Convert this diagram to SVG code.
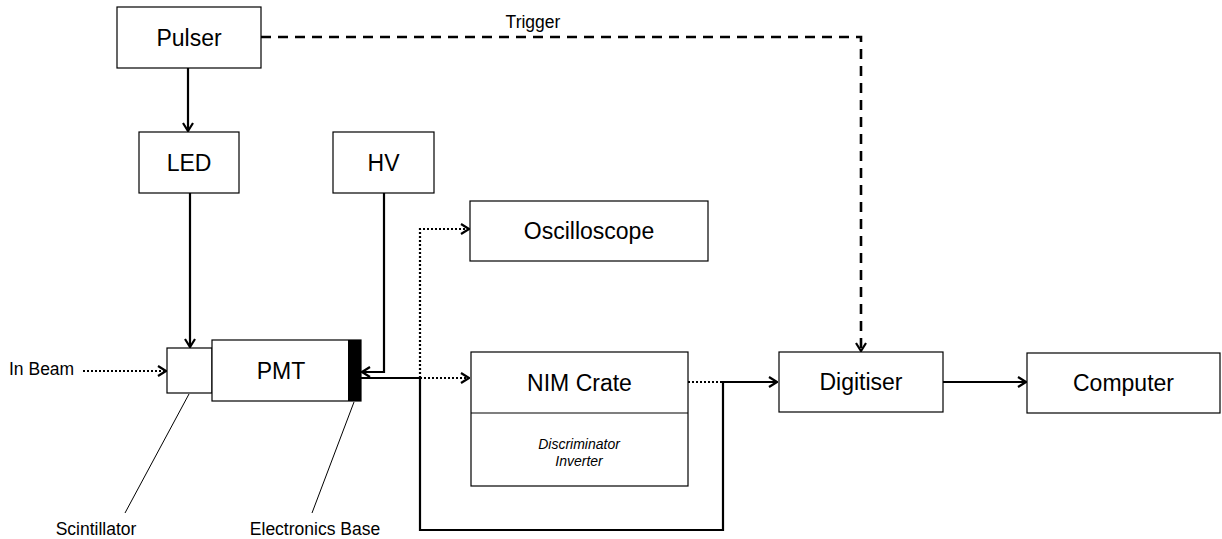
<svg xmlns="http://www.w3.org/2000/svg" width="1222" height="539" viewBox="0 0 1222 539">
<style>
.box{fill:#fff;stroke:#000;stroke-width:1.2}
.lbl{font-family:"Liberation Sans",Arial,sans-serif;font-size:23px;text-anchor:middle;fill:#000}
.sm{font-family:"Liberation Sans",Arial,sans-serif;font-size:17.5px;fill:#000}
.it{font-family:"Liberation Sans",Arial,sans-serif;font-size:14px;font-style:italic;text-anchor:middle;fill:#000}
.c{fill:none;stroke:#000;stroke-width:2.2}
.dot{stroke-dasharray:2 2}
.dash{stroke-dasharray:10 7;stroke-width:2.6}
.lead{fill:none;stroke:#000;stroke-width:1}
</style>
<defs>
<marker id="ah" viewBox="0 0 10 12" refX="9" refY="6" markerWidth="10" markerHeight="12" markerUnits="userSpaceOnUse" orient="auto">
<path d="M1,1 L9,6 L1,11" fill="none" stroke="#000" stroke-width="2.2"/>
</marker>
</defs>
<g id="connectors">
<path class="c" d="M188,68 V131" marker-end="url(#ah)"/>
<path class="c" d="M190,193 V347" marker-end="url(#ah)"/>
<path class="c" d="M384,193 V372 H362" marker-end="url(#ah)"/>
<path class="c dot" d="M83,371 H166" marker-end="url(#ah)"/>
<path class="c" d="M361,378 H420"/>
<path class="c dot" d="M420,378 H469" marker-end="url(#ah)"/>
<path class="c dot" d="M420,378 V229 H469" marker-end="url(#ah)"/>
<path class="c" d="M420,378 V530 H723 V382 H777" marker-end="url(#ah)"/>
<path class="c dot" d="M688,382 H723"/>
<path class="c" d="M943,382 H1026" marker-end="url(#ah)"/>
<path class="c dash" d="M261,37 H861 V351" marker-end="url(#ah)"/>
<path class="lead" d="M189,394 L125,513"/>
<path class="lead" d="M354,402 L312,513"/>
</g>
<g id="pulser"><rect class="box" x="117" y="7" width="144" height="61"/><text class="lbl" x="189" y="46">Pulser</text></g>
<g id="led"><rect class="box" x="139" y="132" width="100" height="61"/><text class="lbl" x="189" y="171">LED</text></g>
<g id="hv"><rect class="box" x="333" y="132" width="101" height="61"/><text class="lbl" x="383.5" y="171">HV</text></g>
<g id="scintillator"><rect class="box" x="167" y="348" width="45" height="45"/></g>
<g id="pmt"><rect class="box" x="212" y="340" width="149" height="61"/><rect x="348" y="340" width="13" height="61" fill="#000"/><text class="lbl" x="281" y="379">PMT</text></g>
<g id="oscilloscope"><rect class="box" x="470" y="201" width="238" height="60"/><text class="lbl" x="589" y="239">Oscilloscope</text></g>
<g id="nim"><rect class="box" x="471" y="352" width="217" height="134"/><line x1="471" y1="413" x2="688" y2="413" stroke="#000" stroke-width="1.2"/><text class="lbl" x="579.5" y="391">NIM Crate</text><text class="it" x="579" y="449">Discriminator</text><text class="it" x="579" y="466">Inverter</text></g>
<g id="digitiser"><rect class="box" x="779" y="352" width="164" height="60"/><text class="lbl" x="861" y="390">Digitiser</text></g>
<g id="computer"><rect class="box" x="1027" y="353" width="193" height="60"/><text class="lbl" x="1123.5" y="391">Computer</text></g>
<g id="labels">
<text class="sm" x="9" y="375">In Beam</text>
<text class="sm" x="533" y="28" text-anchor="middle">Trigger</text>
<text class="sm" x="96" y="535" text-anchor="middle">Scintillator</text>
<text class="sm" x="315" y="535" text-anchor="middle">Electronics Base</text>
</g>
</svg>
